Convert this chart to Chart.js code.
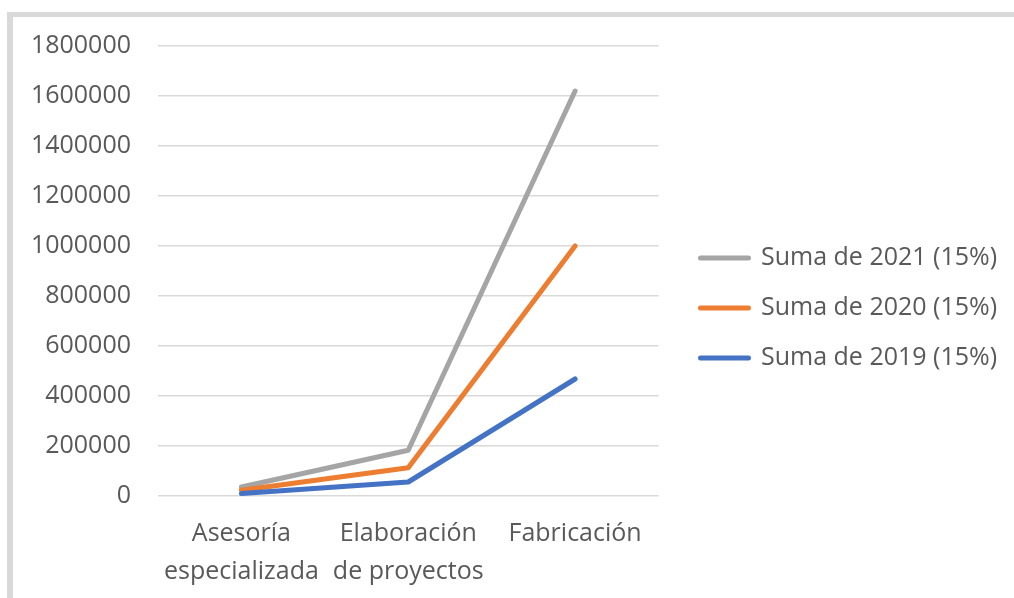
<!DOCTYPE html>
<html>
<head>
<meta charset="utf-8">
<script src="https://cdn.jsdelivr.net/npm/chart.js@4/dist/chart.umd.min.js"></script>
<style>
  html, body { margin: 0; padding: 0; background: #ffffff; }
  #wrap { position: relative; width: 1014px; height: 598px; overflow: hidden; }
  #frame {
    position: absolute; left: 7px; top: 12px; width: 1100px; height: 700px;
    border-left: 6px solid #d9d9d9; border-top: 5px solid #d9d9d9;
  }
  #chart { position: absolute; left: 0; top: 0; }
</style>
</head>
<body>
<div id="wrap">
  <div id="frame"></div>
  <canvas id="chart" width="1014" height="598"></canvas>
</div>
<script>
// Categories on the x axis (multi-line labels)
const categories = [
  ['Asesoría', 'especializada'],
  ['Elaboración', 'de proyectos'],
  'Fabricación'
];

// Series values
const suma2019 = [10000, 56000, 468000];
const suma2020 = [23000, 113000, 1000000];
const suma2021 = [36000, 183000, 1620000];

// Series names
const seriesNames = ['Suma de 2019 (15%)', 'Suma de 2020 (15%)', 'Suma de 2021 (15%)'];

// Y axis tick values
const yTickValues = [0, 200000, 400000, 600000, 800000, 1000000, 1200000, 1400000, 1600000, 1800000];

const FONT = '"Open Sans", Lato, sans-serif';
const FONT_SIZE = 25;
const TEXT_COLOR = '#595959';

function lineSeries(label, data, color) {
  return {
    label: label,
    data: data,
    borderColor: color,
    backgroundColor: color,
    borderWidth: 5,
    borderCapStyle: 'round',
    borderJoinStyle: 'round',
    pointRadius: 0,
    pointHoverRadius: 0,
    tension: 0,
    fill: false
  };
}

// Let the legend text run to the right edge of the canvas instead of being
// clipped at the legend box.
const legendReach = {
  id: 'legendReach',
  afterLayout(chart) {
    if (chart.legend) {
      chart.legend.right = chart.width;
      chart.legend.width = chart.width - chart.legend.left;
    }
  }
};

new Chart(document.getElementById('chart'), {
  type: 'line',
  data: {
    labels: categories,
    datasets: [
      lineSeries(seriesNames[0], suma2019, '#4472c4'),
      lineSeries(seriesNames[1], suma2020, '#ed7d31'),
      lineSeries(seriesNames[2], suma2021, '#a5a5a5')
    ]
  },
  plugins: [legendReach],
  options: {
    responsive: false,
    animation: false,
    layout: { padding: { top: 18, bottom: 0, left: 0, right: 38.5 } },
    plugins: {
      tooltip: { enabled: false },
      legend: {
        position: 'right',
        maxWidth: 300,
        labels: {
          boxWidth: 48,
          boxHeight: 0,
          padding: 25,
          color: TEXT_COLOR,
          font: { family: FONT, size: FONT_SIZE },
          sort: (a, b) => b.datasetIndex - a.datasetIndex
        }
      }
    },
    scales: {
      x: {
        offset: true,
        grid: { display: false, drawTicks: false },
        border: { display: false },
        ticks: {
          color: TEXT_COLOR,
          padding: 18,
          maxRotation: 0,
          autoSkip: false,
          font: { family: FONT, size: FONT_SIZE, lineHeight: 1.55 }
        },
        afterFit: s => { s.height = 102; }
      },
      topGap: {
        type: 'category',
        position: 'top',
        grid: { display: false, drawTicks: false },
        border: { display: false },
        ticks: { display: false },
        afterFit: s => { s.height = 28; }
      },
      y: {
        min: 0,
        max: 1800000,
        grid: { color: '#d9d9d9', lineWidth: 1.5, drawTicks: false },
        border: { display: false },
        ticks: {
          color: TEXT_COLOR,
          padding: 27,
          font: { family: FONT, size: FONT_SIZE },
          callback: v => String(v)
        },
        afterBuildTicks: s => { s.ticks = yTickValues.map(v => ({ value: v })); },
        afterFit: s => { s.width = 158; }
      },
      rightGap: {
        position: 'right',
        min: 0,
        max: 1,
        grid: { display: false, drawTicks: false },
        border: { display: false },
        ticks: { display: false },
        afterFit: s => { s.width = 17; }
      }
    }
  }
});
</script>
</body>
</html>
